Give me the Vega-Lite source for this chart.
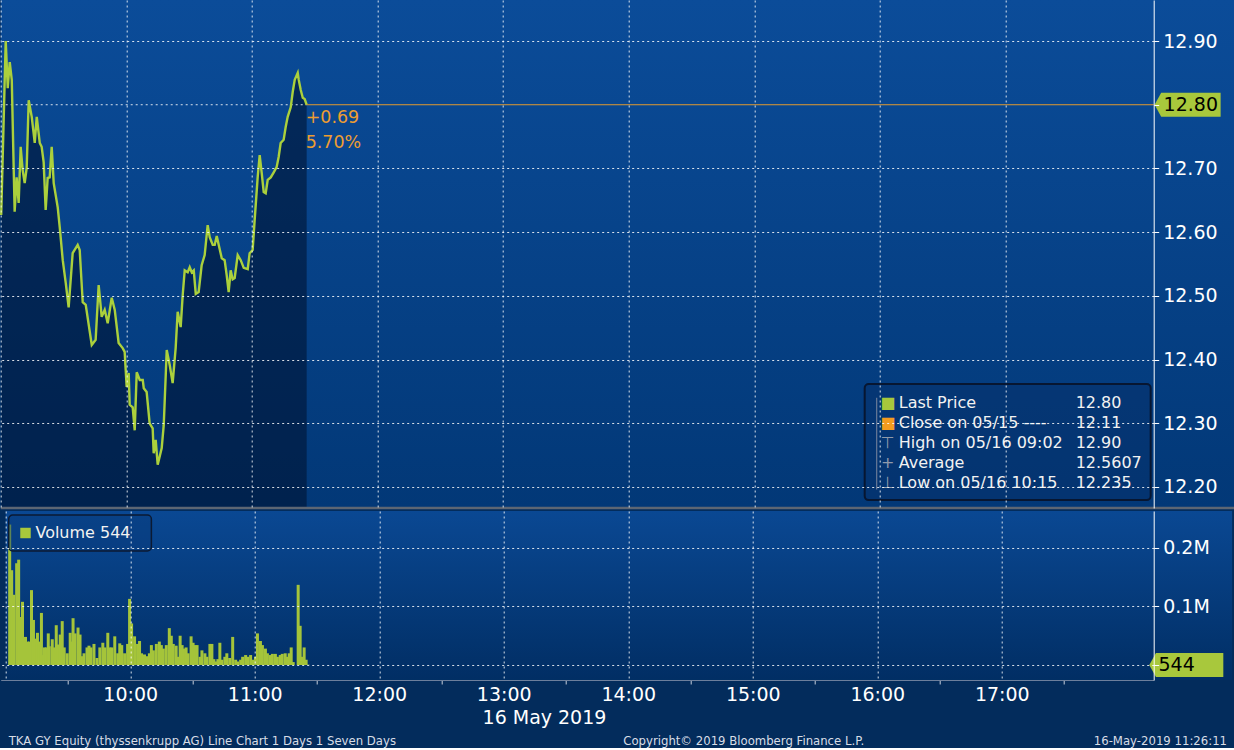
{
  "$schema": "https://vega.github.io/schema/vega-lite/v6.json",
  "padding": {"left": -4.3, "top": 0, "right": 0, "bottom": 0},
  "background": "#032c5c",
  "spacing": 3,
  "bounds": "flush",
  "datasets": {
    "price": [
      {"t":9.004,"p":12.627},{"t":9.040,"p":12.900},{"t":9.056,"p":12.826},{"t":9.072,"p":12.867},{"t":9.088,"p":12.839},
      {"t":9.111,"p":12.632},{"t":9.127,"p":12.686},{"t":9.143,"p":12.646},{"t":9.159,"p":12.734},{"t":9.175,"p":12.697},
      {"t":9.191,"p":12.677},{"t":9.207,"p":12.701},{"t":9.223,"p":12.807},{"t":9.247,"p":12.781},{"t":9.271,"p":12.740},
      {"t":9.287,"p":12.781},{"t":9.311,"p":12.740},{"t":9.326,"p":12.734},{"t":9.342,"p":12.710},{"t":9.358,"p":12.635},
      {"t":9.374,"p":12.685},{"t":9.390,"p":12.686},{"t":9.406,"p":12.734},{"t":9.422,"p":12.677},{"t":9.454,"p":12.639},
      {"t":9.470,"p":12.608},{"t":9.494,"p":12.556},{"t":9.518,"p":12.520},{"t":9.541,"p":12.482},{"t":9.573,"p":12.567},
      {"t":9.613,"p":12.580},{"t":9.629,"p":12.572},{"t":9.653,"p":12.490},{"t":9.677,"p":12.486},{"t":9.725,"p":12.423},
      {"t":9.756,"p":12.431},{"t":9.780,"p":12.517},{"t":9.804,"p":12.467},{"t":9.828,"p":12.478},{"t":9.852,"p":12.457},
      {"t":9.884,"p":12.497},{"t":9.908,"p":12.478},{"t":9.939,"p":12.426},{"t":9.971,"p":12.418},{"t":9.987,"p":12.412},
      {"t":10.003,"p":12.357},{"t":10.019,"p":12.379},{"t":10.027,"p":12.329},{"t":10.051,"p":12.325},{"t":10.067,"p":12.289},
      {"t":10.083,"p":12.380},{"t":10.107,"p":12.368},{"t":10.131,"p":12.368},{"t":10.139,"p":12.355},{"t":10.162,"p":12.349},
      {"t":10.186,"p":12.300},{"t":10.210,"p":12.292},{"t":10.218,"p":12.253},{"t":10.234,"p":12.274},{"t":10.250,"p":12.235},
      {"t":10.282,"p":12.261},{"t":10.298,"p":12.297},{"t":10.322,"p":12.415},{"t":10.346,"p":12.391},{"t":10.369,"p":12.363},
      {"t":10.393,"p":12.418},{"t":10.409,"p":12.475},{"t":10.433,"p":12.451},{"t":10.449,"p":12.501},{"t":10.465,"p":12.540},
      {"t":10.489,"p":12.537},{"t":10.505,"p":12.545},{"t":10.521,"p":12.537},{"t":10.537,"p":12.540},{"t":10.553,"p":12.503},
      {"t":10.576,"p":12.506},{"t":10.600,"p":12.548},{"t":10.624,"p":12.564},{"t":10.648,"p":12.611},{"t":10.664,"p":12.592},
      {"t":10.688,"p":12.580},{"t":10.704,"p":12.580},{"t":10.720,"p":12.594},{"t":10.736,"p":12.580},{"t":10.760,"p":12.559},
      {"t":10.783,"p":12.556},{"t":10.799,"p":12.533},{"t":10.815,"p":12.506},{"t":10.831,"p":12.540},{"t":10.847,"p":12.526},
      {"t":10.863,"p":12.528},{"t":10.887,"p":12.564},{"t":10.911,"p":12.556},{"t":10.935,"p":12.544},{"t":10.967,"p":12.542},
      {"t":10.982,"p":12.567},{"t":11.006,"p":12.572},{"t":11.022,"p":12.619},{"t":11.046,"p":12.686},{"t":11.062,"p":12.721},
      {"t":11.078,"p":12.693},{"t":11.094,"p":12.663},{"t":11.110,"p":12.661},{"t":11.126,"p":12.682},{"t":11.150,"p":12.686},
      {"t":11.174,"p":12.694},{"t":11.197,"p":12.702},{"t":11.213,"p":12.718},{"t":11.229,"p":12.740},{"t":11.253,"p":12.745},
      {"t":11.269,"p":12.765},{"t":11.285,"p":12.781},{"t":11.309,"p":12.796},{"t":11.325,"p":12.820},{"t":11.341,"p":12.839},
      {"t":11.365,"p":12.850},{"t":11.373,"p":12.839},{"t":11.389,"p":12.823},{"t":11.405,"p":12.811},{"t":11.420,"p":12.809},
      {"t":11.436,"p":12.800}
    ],
    "volume": [
      {"t":9.032,"v":240000},{"t":9.048,"v":162000},{"t":9.064,"v":120000},{"t":9.088,"v":174000},{"t":9.104,"v":180000},
      {"t":9.119,"v":82000},{"t":9.135,"v":108000},{"t":9.159,"v":48000},{"t":9.175,"v":40000},{"t":9.191,"v":40000},
      {"t":9.207,"v":128000},{"t":9.223,"v":77000},{"t":9.239,"v":45000},{"t":9.255,"v":55000},{"t":9.271,"v":40000},
      {"t":9.287,"v":89000},{"t":9.303,"v":17000},{"t":9.311,"v":30000},{"t":9.326,"v":30000},{"t":9.342,"v":54000},
      {"t":9.350,"v":32000},{"t":9.374,"v":44000},{"t":9.390,"v":30000},{"t":9.406,"v":68000},{"t":9.422,"v":35000},
      {"t":9.438,"v":52000},{"t":9.454,"v":75000},{"t":9.470,"v":30000},{"t":9.494,"v":20000},{"t":9.518,"v":55000},
      {"t":9.533,"v":40000},{"t":9.541,"v":80000},{"t":9.557,"v":54000},{"t":9.581,"v":64000},{"t":9.597,"v":52000},
      {"t":9.613,"v":15000},{"t":9.629,"v":20000},{"t":9.653,"v":30000},{"t":9.669,"v":33000},{"t":9.685,"v":30000},
      {"t":9.709,"v":36000},{"t":9.733,"v":12000},{"t":9.756,"v":30000},{"t":9.780,"v":38000},{"t":9.796,"v":30000},
      {"t":9.820,"v":55000},{"t":9.836,"v":30000},{"t":9.852,"v":30000},{"t":9.876,"v":49000},{"t":9.900,"v":20000},
      {"t":9.916,"v":37000},{"t":9.932,"v":34000},{"t":9.955,"v":20000},{"t":9.979,"v":36000},{"t":9.995,"v":113000},
      {"t":10.011,"v":71000},{"t":10.035,"v":49000},{"t":10.059,"v":36000},{"t":10.075,"v":41000},{"t":10.091,"v":20000},
      {"t":10.115,"v":18000},{"t":10.139,"v":15000},{"t":10.154,"v":20000},{"t":10.170,"v":34000},{"t":10.186,"v":25000},
      {"t":10.210,"v":36000},{"t":10.234,"v":40000},{"t":10.250,"v":34000},{"t":10.266,"v":28000},{"t":10.290,"v":34000},
      {"t":10.314,"v":63000},{"t":10.330,"v":50000},{"t":10.346,"v":36000},{"t":10.369,"v":33000},{"t":10.385,"v":14000},
      {"t":10.401,"v":50000},{"t":10.417,"v":34000},{"t":10.433,"v":28000},{"t":10.449,"v":30000},{"t":10.465,"v":20000},
      {"t":10.489,"v":49000},{"t":10.505,"v":38000},{"t":10.521,"v":34000},{"t":10.537,"v":34000},{"t":10.561,"v":14000},
      {"t":10.576,"v":25000},{"t":10.600,"v":20000},{"t":10.616,"v":14000},{"t":10.640,"v":36000},{"t":10.656,"v":36000},
      {"t":10.672,"v":10000},{"t":10.688,"v":6000},{"t":10.704,"v":10000},{"t":10.720,"v":38000},{"t":10.736,"v":9000},
      {"t":10.760,"v":14000},{"t":10.776,"v":20000},{"t":10.799,"v":12000},{"t":10.823,"v":48000},{"t":10.847,"v":9000},
      {"t":10.863,"v":6000},{"t":10.887,"v":9000},{"t":10.903,"v":14000},{"t":10.927,"v":17000},{"t":10.943,"v":14000},
      {"t":10.967,"v":17000},{"t":10.982,"v":9000},{"t":11.006,"v":14000},{"t":11.022,"v":54000},{"t":11.046,"v":41000},
      {"t":11.062,"v":34000},{"t":11.086,"v":28000},{"t":11.102,"v":20000},{"t":11.126,"v":17000},{"t":11.142,"v":19000},
      {"t":11.166,"v":19000},{"t":11.182,"v":14000},{"t":11.205,"v":17000},{"t":11.221,"v":19000},{"t":11.245,"v":20000},
      {"t":11.261,"v":14000},{"t":11.277,"v":20000},{"t":11.293,"v":30000},{"t":11.309,"v":5000},{"t":11.349,"v":137000},
      {"t":11.365,"v":67000},{"t":11.381,"v":14000},{"t":11.397,"v":30000},{"t":11.413,"v":9000},{"t":11.429,"v":544}
    ],
    "legend": [
      {"rank":1,"icon":"■","label":"Last Price","value":"12.80"},
      {"rank":2,"icon":"■","label":"Close on 05/15 ----","value":"12.11"},
      {"rank":3,"icon":"⊤","label":"High on 05/16 09:02","value":"12.90"},
      {"rank":4,"icon":"+","label":"Average","value":"12.5607"},
      {"rank":5,"icon":"⊥","label":"Low on 05/16 10:15","value":"12.235"}
    ]
  },
  "vconcat": [
    {
      "width": 1153,
      "height": 508,
      "resolve": {"scale": {"y": "independent"}},
      "layer": [
        {
          "layer": [
            {
              "data": {"values": [{}]},
              "mark": {"type": "rect", "strokeWidth": 0, "fill": {"gradient": "linear", "x1": 0, "y1": 0, "x2": 0, "y2": 1, "stops": [{"offset": 0, "color": "#0b4c99"}, {"offset": 1, "color": "#023877"}]}},
              "encoding": {
                "x": {"datum": 9, "type": "quantitative", "scale": {"domain": [9, 18.18], "nice": false, "zero": false},
                  "axis": {"values": [9,10,11,12,13,14,15,16,17], "title": null, "labels": false, "ticks": false, "domain": false, "grid": true, "gridColor": "#ffffff", "gridDash": [2,3], "gridOpacity": 0.85, "zindex": 1}},
                "x2": {"datum": 18.85},
                "y": {"datum": 12.9644, "type": "quantitative", "scale": {"domain": [12.167, 12.9644], "nice": false, "zero": false},
                  "axis": {"orient": "right", "title": null,
                    "values": [12.2,12.25,12.3,12.35,12.4,12.45,12.5,12.55,12.6,12.65,12.7,12.75,12.8,12.85,12.9],
                    "labelExpr": "(abs(datum.value*10 - round(datum.value*10)) < 0.01 && abs(datum.value - 12.8) > 0.01) ? format(datum.value, '.2f') : ''",
                    "labelFontSize": 19, "labelColor": "#ffffff", "labelPadding": 4, "labelOverlap": false, "labelFlush": false,
                    "tickColor": "#ffffff", "tickSize": 5,
                    "domain": true, "domainColor": "#ffffff",
                    "grid": true, "gridColor": "#ffffff", "gridDash": [2,3],
                    "gridOpacity": {"condition": {"test": "abs(datum.value*10 - round(datum.value*10)) < 0.01 && abs(datum.value - 12.8) > 0.01", "value": 0.85}, "value": 0},
                    "zindex": 1}},
                "y2": {"datum": 12.167}
              }
            },
            {
              "data": {"name": "price"},
              "mark": {"type": "area", "color": "#001535", "opacity": 0.62},
              "encoding": {"x": {"field": "t", "type": "quantitative"}, "y": {"field": "p", "type": "quantitative"}, "y2": {"datum": 12.167}}
            },
            {
              "data": {"values": [{}]},
              "mark": {"type": "rule", "color": "#ffffff", "strokeWidth": 1, "strokeDash": [2,3], "opacity": 0.85},
              "encoding": {"x": {"datum": 9, "type": "quantitative"}, "x2": {"datum": 11.436}, "y": {"datum": 12.8, "type": "quantitative"}}
            },
            {
              "data": {"name": "price"},
              "mark": {"type": "line", "color": "#abd03c", "strokeWidth": 2.4},
              "encoding": {"x": {"field": "t", "type": "quantitative"}, "y": {"field": "p", "type": "quantitative"}}
            },
            {
              "data": {"values": [{}]},
              "mark": {"type": "rule", "color": "#e39b2e", "strokeWidth": 1},
              "encoding": {"x": {"datum": 11.436, "type": "quantitative"}, "x2": {"datum": 18.18}, "y": {"datum": 12.8, "type": "quantitative"}}
            },
            {
              "data": {"values": [{}]},
              "mark": {"type": "rule", "color": "#5d6673", "strokeWidth": 2.5},
              "encoding": {"x": {"datum": 9, "type": "quantitative"}, "x2": {"datum": 18.85}, "y": {"datum": 12.167, "type": "quantitative"}}
            },
            {
              "data": {"values": [{}]},
              "mark": {"type": "rect", "fill": "#05306a", "fillOpacity": 0.5, "stroke": "#071631", "strokeWidth": 2, "cornerRadius": 4},
              "encoding": {"x": {"datum": 15.879, "type": "quantitative"}, "x2": {"datum": 18.156}, "y": {"datum": 12.3615, "type": "quantitative"}, "y2": {"datum": 12.1794}}
            },
            {
              "data": {"values": [{}]},
              "mark": {"type": "rule", "color": "#7f8aa0", "strokeWidth": 1},
              "encoding": {"x": {"datum": 15.975, "type": "quantitative"}, "y": {"datum": 12.340, "type": "quantitative"}, "y2": {"datum": 12.196}}
            },
            {
              "data": {"values": [{}]},
              "mark": {"type": "text", "text": "+0.69", "align": "left", "baseline": "middle", "fontSize": 17.5, "color": "#ee9d30"},
              "encoding": {"x": {"datum": 11.428, "type": "quantitative"}, "y": {"datum": 12.779, "type": "quantitative"}}
            },
            {
              "data": {"values": [{}]},
              "mark": {"type": "text", "text": "5.70%", "align": "left", "baseline": "middle", "fontSize": 17.5, "color": "#ee9d30"},
              "encoding": {"x": {"datum": 11.428, "type": "quantitative"}, "y": {"datum": 12.740, "type": "quantitative"}}
            },
            {
              "data": {"values": [{}]},
              "mark": {"type": "point", "shape": "M -1 0 L -0.8 -0.364 L 1 -0.364 L 1 0.364 L -0.8 0.364 Z", "filled": true, "size": 4356, "color": "#a8c83c", "opacity": 1, "strokeWidth": 0},
              "encoding": {"x": {"datum": 18.45, "type": "quantitative"}, "y": {"datum": 12.8, "type": "quantitative"}}
            },
            {
              "data": {"values": [{}]},
              "mark": {"type": "text", "text": "12.80", "align": "left", "baseline": "middle", "fontSize": 19, "color": "#000000"},
              "encoding": {"x": {"datum": 18.259, "type": "quantitative"}, "y": {"datum": 12.8, "type": "quantitative"}}
            }
          ]
        },
        {
          "data": {"name": "legend"},
          "encoding": {"y": {"field": "rank", "type": "quantitative", "scale": {"domain": [6.25, -19.15], "nice": false, "zero": false}, "axis": null}},
          "layer": [
            {
              "mark": {"type": "text", "align": "center", "baseline": "middle", "fontSize": 16},
              "encoding": {
                "x": {"datum": 16.062, "type": "quantitative"},
                "text": {"field": "icon"},
                "color": {"condition": [{"test": "datum.rank == 1", "value": "#a8c83c"}, {"test": "datum.rank == 2", "value": "#f39c1f"}], "value": "#8f9aab"}
              }
            },
            {
              "mark": {"type": "text", "align": "left", "baseline": "middle", "fontSize": 16, "color": "#f2f2f2"},
              "encoding": {"x": {"datum": 16.15, "type": "quantitative"}, "text": {"field": "label"}}
            },
            {
              "mark": {"type": "text", "align": "left", "baseline": "middle", "fontSize": 16, "color": "#f2f2f2"},
              "encoding": {"x": {"datum": 17.559, "type": "quantitative"}, "text": {"field": "value"}}
            }
          ]
        }
      ]
    },
    {
      "width": 1153,
      "height": 169,
      "layer": [
        {
          "data": {"values": [{}]},
          "mark": {"type": "rect", "strokeWidth": 0, "fill": {"gradient": "linear", "x1": 0, "y1": 0, "x2": 0, "y2": 1, "stops": [{"offset": 0, "color": "#0a4893"}, {"offset": 1, "color": "#012e64"}]}},
          "encoding": {
            "x": {"datum": 9, "type": "quantitative", "scale": {"domain": [9, 18.18], "nice": false, "zero": false},
              "axis": {"title": null, "values": [9,9.5,10,10.5,11,11.5,12,12.5,13,13.5,14,14.5,15,15.5,16,16.5,17,17.5],
                "labelExpr": "(datum.value % 1 == 0 && datum.value >= 10) ? format(datum.value, 'd') + ':00' : ''",
                "labelFontSize": 19, "labelColor": "#ffffff", "labelPadding": 2, "labelOverlap": false, "labelFlush": false,
                "tickColor": "#c8d0dc", "tickSize": 4,
                "tickOpacity": {"condition": {"test": "datum.value % 1 == 0", "value": 0}, "value": 1},
                "domain": true, "domainColor": "#6f829e",
                "grid": true, "gridColor": "#ffffff", "gridDash": [2,3],
                "gridOpacity": {"condition": {"test": "datum.value % 1 == 0", "value": 0.85}, "value": 0},
                "zindex": 1}},
            "x2": {"datum": 18.85},
            "y": {"datum": 263200, "type": "quantitative", "scale": {"domain": [-25640, 263200], "nice": false, "zero": false},
              "axis": {"orient": "right", "title": null, "values": [0, 100000, 200000],
                "labelExpr": "datum.value == 0 ? '' : format(datum.value / 1000000, '.1f') + 'M'",
                "labelFontSize": 19, "labelColor": "#ffffff", "labelPadding": 4, "labelOverlap": false, "labelFlush": false,
                "tickColor": "#ffffff", "tickSize": 5,
                "domain": true, "domainColor": "#ffffff",
                "grid": true, "gridColor": "#ffffff", "gridDash": [2,3], "gridOpacity": 0.85,
                "zindex": 1}},
            "y2": {"datum": -25640}
          }
        },
        {
          "data": {"name": "volume"},
          "mark": {"type": "bar", "color": "#a5c43a", "size": 3},
          "encoding": {"x": {"field": "t", "type": "quantitative"}, "y": {"field": "v", "type": "quantitative"}, "y2": {"datum": 0}}
        },
        {
          "data": {"values": [{}]},
          "mark": {"type": "rect", "fill": "#08397a", "fillOpacity": 0.45, "stroke": "#0b1a33", "strokeWidth": 1.5, "cornerRadius": 4},
          "encoding": {"x": {"datum": 9.024, "type": "quantitative"}, "x2": {"datum": 10.17}, "y": {"datum": 256364, "type": "quantitative"}, "y2": {"datum": 194836}}
        },
        {
          "data": {"values": [{}]},
          "mark": {"type": "point", "shape": "square", "filled": true, "size": 110, "color": "#a8c83c", "opacity": 1},
          "encoding": {"x": {"datum": 9.159, "type": "quantitative"}, "y": {"datum": 225600, "type": "quantitative"}}
        },
        {
          "data": {"values": [{}]},
          "mark": {"type": "text", "text": "Volume 544", "align": "left", "baseline": "middle", "fontSize": 16, "color": "#f2f2f2"},
          "encoding": {"x": {"datum": 9.239, "type": "quantitative"}, "y": {"datum": 225600, "type": "quantitative"}}
        },
        {
          "data": {"values": [{}]},
          "mark": {"type": "point", "shape": "M -1 0 L -0.82 -0.324 L 1 -0.324 L 1 0.324 L -0.82 0.324 Z", "filled": true, "size": 5476, "color": "#a8c83c", "opacity": 1, "strokeWidth": 0},
          "encoding": {"x": {"datum": 18.482, "type": "quantitative"}, "y": {"datum": 0, "type": "quantitative"}}
        },
        {
          "data": {"values": [{}]},
          "mark": {"type": "text", "text": "544", "align": "left", "baseline": "middle", "fontSize": 19, "color": "#000000"},
          "encoding": {"x": {"datum": 18.259, "type": "quantitative"}, "y": {"datum": 0, "type": "quantitative"}}
        },
        {
          "data": {"values": [{}]},
          "mark": {"type": "text", "text": "16 May 2019", "align": "left", "baseline": "middle", "fontSize": 19, "color": "#ffffff"},
          "encoding": {"x": {"datum": 12.83, "type": "quantitative"}, "y": {"datum": -90590, "type": "quantitative"}}
        },
        {
          "data": {"values": [{}]},
          "mark": {"type": "text", "text": "TKA GY Equity (thyssenkrupp AG) Line Chart 1 Days 1 Seven Days", "align": "left", "baseline": "middle", "fontSize": 11.7, "color": "#d8dde6"},
          "encoding": {"x": {"datum": 9.024, "type": "quantitative"}, "y": {"datum": -129900, "type": "quantitative"}}
        },
        {
          "data": {"values": [{}]},
          "mark": {"type": "text", "text": "Copyright© 2019 Bloomberg Finance L.P.", "align": "left", "baseline": "middle", "fontSize": 11.7, "color": "#d8dde6"},
          "encoding": {"x": {"datum": 13.96, "type": "quantitative"}, "y": {"datum": -129900, "type": "quantitative"}}
        },
        {
          "data": {"values": [{}]},
          "mark": {"type": "text", "text": "16-May-2019 11:26:11", "align": "right", "baseline": "middle", "fontSize": 11.7, "color": "#d8dde6"},
          "encoding": {"x": {"datum": 18.809, "type": "quantitative"}, "y": {"datum": -129900, "type": "quantitative"}}
        }
      ]
    }
  ],
  "config": {
    "font": "DejaVu Sans",
    "view": {"stroke": null},
    "axis": {"labelFont": "DejaVu Sans", "titleFont": "DejaVu Sans"},
    "text": {"font": "DejaVu Sans"}
  }
}
